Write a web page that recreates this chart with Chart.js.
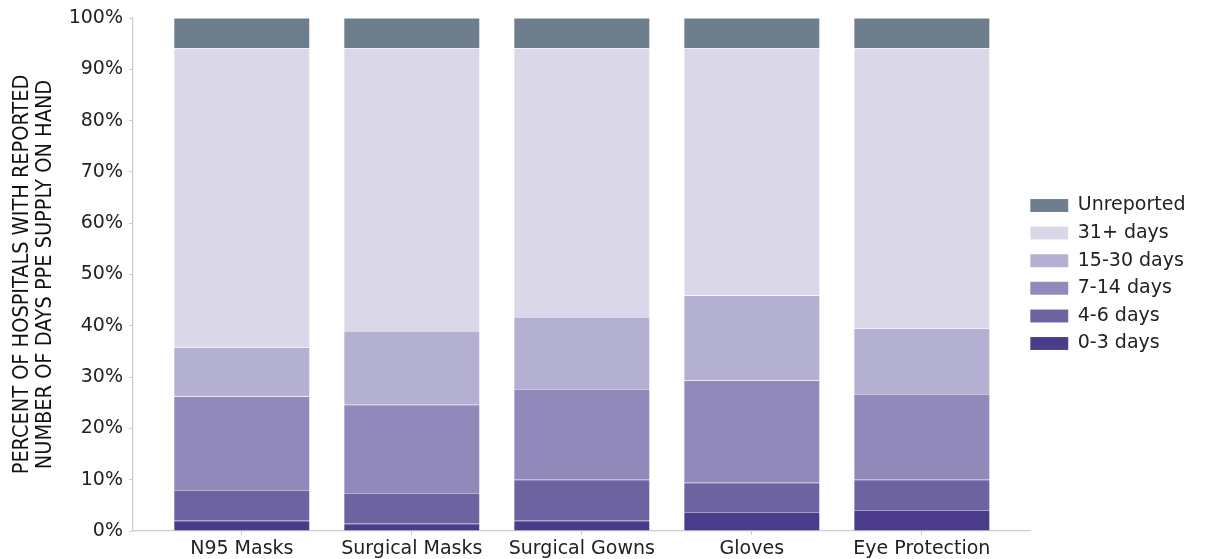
<!DOCTYPE html>
<html lang="en">
<head>
<meta charset="UTF-8">
<title>PPE Supply on Hand</title>
<script src="https://cdn.jsdelivr.net/npm/chart.js"></script>
<style>
    body {
        margin: 0;
        background: #fff;
    }
    #wrap {
        width: 1206px;
        height: 559px;
        position: relative;
    }
</style>
</head>
<body>
<div id="wrap"><canvas id="ppeChart"></canvas></div>

<script>
  const categories = ['N95 Masks', 'Surgical Masks', 'Surgical Gowns', 'Gloves', 'Eye Protection'];

  // percent of hospitals, bottom segment first
  const days0to3 = [2.0, 1.4, 2.0, 3.7, 4.1];
  const days4to6 = [6.0, 6.0, 8.0, 5.7, 5.9];
  const days7to14 = [18.2, 17.2, 17.7, 20.0, 16.7];
  const days15to30 = [9.6, 14.4, 14.0, 16.5, 12.8];
  const days31plus = [58.3, 55.1, 52.4, 48.2, 54.6];
  const unreported = [5.9, 5.9, 5.9, 5.9, 5.9];

  const yTicks = [0, 10, 20, 30, 40, 50, 60, 70, 80, 90, 100];

  const seriesNames = ['0-3 days', '4-6 days', '7-14 days', '15-30 days', '31+ days', 'Unreported'];
  const seriesValues = [days0to3, days4to6, days7to14, days15to30, days31plus, unreported];
  const seriesColors = ['#4a3c8a', '#6c63a0', '#9189b9', '#b4b0d2', '#dad8e8', '#6e7e8d'];

  Chart.defaults.font.family = "'DejaVu Sans', sans-serif";
  Chart.defaults.color = '#222';

  const datasets = seriesNames.map((name, i) => ({
    label: name,
    data: seriesValues[i].map((v, j) => ({ x: j, y: v })),
    backgroundColor: seriesColors[i],
    borderColor: 'rgba(255,255,255,0.22)',
    borderWidth: 0.5,
    stack: 'all',
    barPercentage: 0.8,
    categoryPercentage: 1.0
  }));

  // move legend left so its boxes sit over the end of the x axis
  const legendNudge = {
    id: 'legendNudge',
    afterLayout(chart) {
      const lg = chart.legend;
      if (!lg) return;
      lg.left -= 9;
      lg.right -= 9;
    }
  };

  const axisGrey = '#cccccc';

  new Chart(document.getElementById('ppeChart'), {
    type: 'bar',
    data: { datasets: datasets },
    plugins: [legendNudge],
    options: {
      responsive: true,
      maintainAspectRatio: false,
      animation: false,
      layout: {
        padding: { top: 18, right: 1.5, bottom: 0, left: 0 }
      },
      scales: {
        x: {
          type: 'linear',
          stacked: true,
          offset: false,
          min: -0.64,
          max: 4.64,
          afterBuildTicks: (scale) => {
            scale.ticks = categories.map((c, i) => ({ value: i }));
          },
          afterFit: (scale) => { scale.height = 28; },
          ticks: {
            autoSkip: false,
            maxRotation: 0,
            padding: 3,
            color: '#222',
            font: { size: 19 },
            callback: (v) => categories[v]
          },
          grid: {
            display: true,
            drawOnChartArea: false,
            offset: false,
            tickLength: 4,
            color: axisGrey
          },
          border: { color: axisGrey, width: 1.2 }
        },
        y: {
          stacked: true,
          min: 0,
          max: 100,
          afterBuildTicks: (scale) => {
            scale.ticks = yTicks.map(v => ({ value: v }));
          },
          afterFit: (scale) => { scale.width = 133; },
          ticks: {
            padding: 6,
            color: '#222',
            font: { size: 19 },
            callback: (v) => v + '%'
          },
          grid: {
            display: true,
            drawOnChartArea: false,
            tickLength: 4,
            color: axisGrey
          },
          border: { color: axisGrey, width: 1.2 },
          title: {
            display: true,
            text: ['PERCENT OF HOSPITALS WITH REPORTED', 'NUMBER OF DAYS PPE SUPPLY ON HAND'],
            color: '#111',
            font: { family: "'Liberation Sans Narrow', 'DejaVu Sans Condensed', sans-serif", size: 21.5, lineHeight: 1.07 },
            padding: { top: 11, bottom: 0 }
          }
        }
      },
      plugins: {
        legend: {
          position: 'right',
          fullSize: false,
          align: 'center',
          reverse: true,
          labels: {
            boxWidth: 38,
            boxHeight: 13,
            padding: 8.6,
            color: '#222',
            font: { size: 19 }
          }
        },
        tooltip: { enabled: true }
      }
    }
  });
</script>
</body>
</html>
